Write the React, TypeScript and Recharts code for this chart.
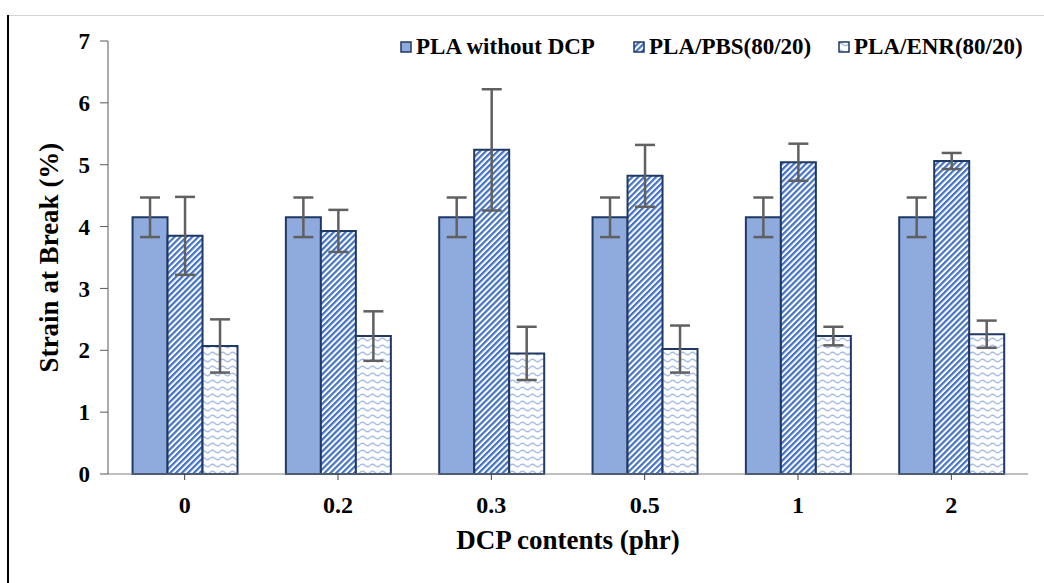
import { BarChart, Bar, XAxis, YAxis, ErrorBar, Legend, Label } from 'recharts'

const categories = ['0', '0.2', '0.3', '0.5', '1', '2']
const plaWithout = [4.15, 4.15, 4.15, 4.15, 4.15, 4.15]
const plaWithoutErr = [0.32, 0.32, 0.32, 0.32, 0.32, 0.32]
const plaPbs = [3.85, 3.93, 5.24, 4.82, 5.04, 5.06]
const plaPbsErr = [0.63, 0.34, 0.98, 0.5, 0.3, 0.13]
const plaEnr = [2.07, 2.23, 1.95, 2.02, 2.23, 2.26]
const plaEnrErr = [0.43, 0.4, 0.43, 0.38, 0.15, 0.22]
const yTicks = [0, 1, 2, 3, 4, 5, 6, 7]

const seriesNames = ['PLA without DCP', 'PLA/PBS(80/20)', 'PLA/ENR(80/20)']
const seriesFills = ['#8faadc', 'url(#pbsStripe)', 'url(#enrWave)']

const data = categories.map((c, i) => ({
  dcp: c,
  pla: plaWithout[i],
  plaErr: plaWithoutErr[i],
  pbs: plaPbs[i],
  pbsErr: plaPbsErr[i],
  enr: plaEnr[i],
  enrErr: plaEnrErr[i],
}))

const font = '"Liberation Serif", "Times New Roman", serif'
const border = '#203864'
const errColor = '#606060'

function LegendContent() {
  // left edges of the three legend entries
  const lefts = [0, 233, 438]
  return (
    <div style={{ position: 'relative', height: 26, fontFamily: font, fontWeight: 'bold', fontSize: 23, color: '#000', whiteSpace: 'nowrap' }}>
      {seriesNames.map((n, i) => (
        <div key={n} style={{ position: 'absolute', left: lefts[i], top: 0, display: 'flex', alignItems: 'center', lineHeight: '26px' }}>
          <svg width={12} height={12} style={{ marginRight: 4 }}>
            <rect x={1} y={1} width={10} height={10} fill={seriesFills[i]} stroke={border} strokeWidth={1.5} />
          </svg>
          <span>{n}</span>
        </div>
      ))}
    </div>
  )
}

function YTitle(props: any) {
  const vb = props.viewBox || { x: 0, y: 0, width: 0, height: 0 }
  const cx = 49
  const cy = vb.y + vb.height / 2
  return (
    <text x={cx} y={cy} transform={`rotate(-90 ${cx} ${cy})`} textAnchor="middle" dominantBaseline="central"
      style={{ fontFamily: font, fontWeight: 'bold', fontSize: 27, fill: '#000' }}>
      Strain at Break (%)
    </text>
  )
}

export default function App() {
  return (
    <div style={{ position: 'fixed', left: 0, top: 0, width: 1044, height: 583, background: '#fff' }}>
      <div style={{ position: 'absolute', left: 8, top: 15, right: 0, height: 1, background: '#d4d4d4' }} />
      <div style={{ position: 'absolute', left: 7, top: 15, width: 2, bottom: 0, background: '#000' }} />
      <BarChart
        width={1044}
        height={583}
        data={data}
        margin={{ top: 41, right: 16, bottom: 29, left: 48 }}
        barCategoryGap="16%"
        barGap={0}
        style={{ position: 'absolute', left: 0, top: 0 }}
      >
        <defs>
          <pattern id="pbsStripe" patternUnits="userSpaceOnUse" width={4.2} height={4.2} patternTransform="rotate(45)">
            <rect x={0} y={0} width={4.2} height={4.2} fill="#ffffff" />
            <rect x={0} y={0} width={2.2} height={4.2} fill="#4472c4" />
          </pattern>
          <pattern id="enrWave" patternUnits="userSpaceOnUse" width={10} height={7}>
            <rect x={0} y={0} width={10} height={7} fill="#ffffff" />
            <path d="M0 3.5 Q2.5 1 5 3.5 T10 3.5" fill="none" stroke="#a7bde6" strokeWidth={1.3} />
          </pattern>
        </defs>
        <XAxis
          dataKey="dcp"
          height={80}
          stroke="#7f7f7f"
          tickLine={{ stroke: '#404040' }}
          tickSize={6}
          tickMargin={16}
          tick={{ fontFamily: font, fontWeight: 'bold', fontSize: 24, fill: '#000' }}
        >
          <Label value="DCP contents (phr)" position="insideBottom" offset={5}
            style={{ fontFamily: font, fontWeight: 'bold', fontSize: 27, fill: '#000' }} />
        </XAxis>
        <YAxis
          width={60}
          domain={[0, 7]}
          ticks={yTicks}
          interval={0}
          stroke="#595959"
          tickSize={8}
          tickMargin={10}
          tick={{ fontFamily: font, fontWeight: 'bold', fontSize: 23, fill: '#000' }}
        >
          <Label content={YTitle} />
        </YAxis>
        <Legend verticalAlign="middle" content={LegendContent} wrapperStyle={{ position: 'absolute', top: 34, left: 400, width: 640 }} />
        <Bar dataKey="pla" name={seriesNames[0]} fill={seriesFills[0]} stroke={border} strokeWidth={2} isAnimationActive={false}>
          <ErrorBar dataKey="plaErr" width={10} stroke={errColor} strokeWidth={2.5} />
        </Bar>
        <Bar dataKey="pbs" name={seriesNames[1]} fill={seriesFills[1]} stroke={border} strokeWidth={2} isAnimationActive={false}>
          <ErrorBar dataKey="pbsErr" width={10} stroke={errColor} strokeWidth={2.5} />
        </Bar>
        <Bar dataKey="enr" name={seriesNames[2]} fill={seriesFills[2]} stroke={border} strokeWidth={2} isAnimationActive={false}>
          <ErrorBar dataKey="enrErr" width={10} stroke={errColor} strokeWidth={2.5} />
        </Bar>
      </BarChart>
    </div>
  )
}
